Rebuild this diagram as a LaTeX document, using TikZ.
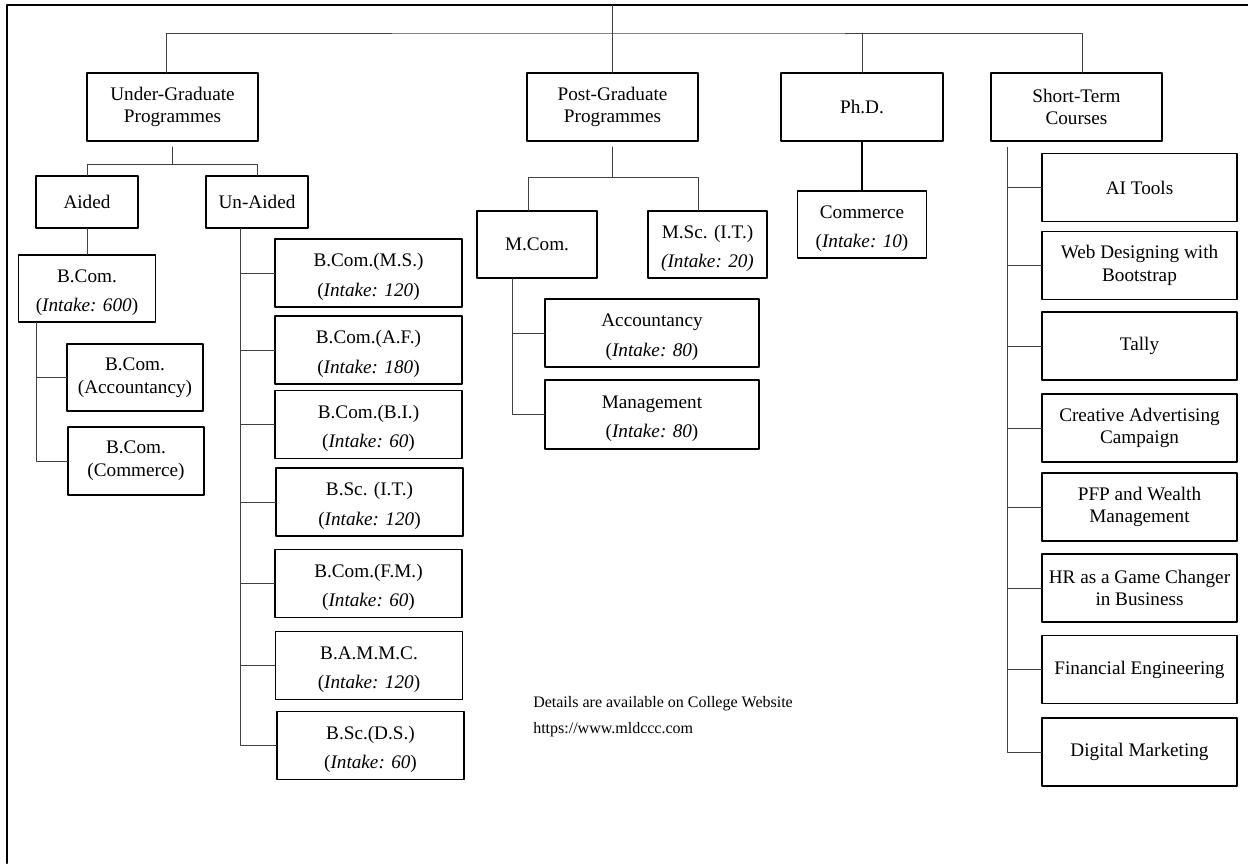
\documentclass[tikz,border=0pt]{standalone}
\usepackage{fontspec}
\setmainfont{Liberation Serif}
\newcommand{\upline}{\rule{0pt}{16pt}}

\begin{document}
\begin{tikzpicture}[line cap=round,line join=round,x=0.75pt,y=-0.75pt,
    box/.style={draw,line width=0.9pt,rectangle,align=center,inner sep=1pt,font=\fontsize{14.4}{17}\selectfont},
    intake/.style={box,font=\fontsize{14.4}{22}\selectfont},
    topbox/.style={box,minimum width=128.25pt,minimum height=51pt},
    uabox/.style={intake,minimum width=140.25pt,minimum height=51pt},
    stbox/.style={box,minimum width=146.25pt,minimum height=51pt},
    link/.style={line width=0.6pt,draw=black!75}]
    \useasboundingbox (0,0) rectangle (1248,863);
    \draw [line width=1.5pt] (7,863) -- (7,5) -- (1248,5);
    % first level
    \node[topbox] (ug) at (172.5,107) {Under-Graduate\\Programmes};
    \node[topbox] (pg) at (612.5,107) {Post-Graduate\\Programmes};
    \node[topbox,minimum width=121.5pt] (phd) at (862,107) {Ph.D.};
    \node[topbox] (st) at (1076.5,107) {Short-Term\\Courses};
    \coordinate (root) at (612.5,5);
    \coordinate (rootbus) at (612.5,33);
    \draw [link] (root) -- (rootbus);
    \draw [link] ([xshift=-4.5pt]ug.north) |- (rootbus) -| ([xshift=4.5pt]st.north);
    \draw [link] (rootbus) -- (pg.north);
    \draw [link] (phd.north |- rootbus) -- (phd.north);
    % under-graduate
    \node[box,minimum width=76.5pt,minimum height=39pt] (aided) at (87,202) {Aided};
    \node[box,minimum width=76.5pt,minimum height=39pt] (unaided) at (257,202) {Un-Aided};
    \draw [link] ([yshift=-4pt]ug.south) -- ++(0,17) coordinate (ugbus);
    \draw [link] (aided.north) |- (ugbus) -| (unaided.north);
    \node[intake,minimum width=102.75pt,minimum height=50.25pt] (bcom) at (87,288.5) {\upline B.Com.\\(\textit{Intake: 600})};
    \node[box,minimum width=102pt,minimum height=50.25pt] (bacc) at (135,377.5) {B.Com.\\(Accountancy)};
    \node[box,minimum width=102pt,minimum height=51pt] (bcomm) at (136,461) {B.Com.\\(Commerce)};
    \draw [link] (aided.south) -- (bcom.north);
    \draw [link] ([xshift=13.5pt]bcom.south west) |- (bacc.west);
    \draw [link] ([xshift=13.5pt]bcom.south west) |- (bcomm.west);
    \node[uabox] (ms) at (368.5,273) {\upline B.Com.(M.S.)\\(\textit{Intake: 120})};
    \node[uabox] (af) at (368.5,350) {\upline B.Com.(A.F.)\\(\textit{Intake: 180})};
    \node[uabox] (bi) at (368.5,424.5) {\upline B.Com.(B.I.)\\(\textit{Intake: 60})};
    \node[uabox] (it) at (369.5,502) {\upline B.Sc. (I.T.)\\(\textit{Intake: 120})};
    \node[uabox] (fm) at (368.5,583.5) {\upline B.Com.(F.M.)\\(\textit{Intake: 60})};
    \node[uabox] (bammc) at (369,665.5) {\upline B.A.M.M.C.\\(\textit{Intake: 120})};
    \node[uabox] (ds) at (370.5,745.5) {\upline B.Sc.(D.S.)\\(\textit{Intake: 60})};
    \draw [link] ([xshift=-12.75pt]unaided.south) |- (ms.west);
    \draw [link] ([xshift=-12.75pt]unaided.south) |- (af.west);
    \draw [link] ([xshift=-12.75pt]unaided.south) |- (bi.west);
    \draw [link] ([xshift=-12.75pt]unaided.south) |- (it.west);
    \draw [link] ([xshift=-12.75pt]unaided.south) |- (fm.west);
    \draw [link] ([xshift=-12.75pt]unaided.south) |- (bammc.west);
    \draw [link] ([xshift=-12.75pt]unaided.south) |- (ds.west);
    % post-graduate
    \node[box,minimum width=90pt,minimum height=50.25pt] (mcom) at (537,244.5) {M.Com.};
    \node[intake,minimum width=89.25pt,minimum height=50.25pt] (msc) at (707.5,244.5) {\upline M.Sc. (I.T.)\\\textit{(Intake: 20)}};
    \draw [link] ([yshift=-4pt]pg.south) -- ++(0,30) coordinate (pgbus);
    \draw [link] ([xshift=-6.75pt]mcom.north) |- (pgbus) -| ([xshift=-6.75pt]msc.north);
    \node[intake,minimum width=160.5pt,minimum height=51pt] (macc) at (652,333) {\upline Accountancy\\(\textit{Intake: 80})};
    \node[intake,minimum width=160.5pt,minimum height=51.75pt] (mman) at (652,414.5) {\upline Management\\(\textit{Intake: 80})};
    \draw [link] ([xshift=-18.75pt]mcom.south) |- (macc.west);
    \draw [link] ([xshift=-18.75pt]mcom.south) |- (mman.west);
    % ph.d.
    \node[intake,minimum width=96.75pt,minimum height=50.25pt] (phdc) at (862,224.5) {\upline Commerce\\(\textit{Intake: 10})};
    \draw [line width=1.2pt] (phd.south) -- (phdc.north);
    % short-term
    \node[stbox] (ai) at (1139.5,187.5) {AI Tools};
    \node[stbox] (web) at (1139.5,265.5) {Web Designing with\\Bootstrap};
    \node[stbox] (tally) at (1139.5,346) {Tally};
    \node[stbox] (cac) at (1139.5,428) {Creative Advertising\\Campaign};
    \node[stbox] (pfp) at (1139.5,507) {PFP and Wealth\\Management};
    \node[stbox] (hr) at (1139.5,588) {HR as a Game Changer\\in Business};
    \node[stbox] (fe) at (1139.5,669.5) {Financial Engineering};
    \node[stbox] (dm) at (1139.5,752) {Digital Marketing};
    \draw [link] ([shift={(12.75pt,-4.5pt)}]st.south west) |- (ai.west);
    \draw [link] ([shift={(12.75pt,-4.5pt)}]st.south west) |- (web.west);
    \draw [link] ([shift={(12.75pt,-4.5pt)}]st.south west) |- (tally.west);
    \draw [link] ([shift={(12.75pt,-4.5pt)}]st.south west) |- (cac.west);
    \draw [link] ([shift={(12.75pt,-4.5pt)}]st.south west) |- (pfp.west);
    \draw [link] ([shift={(12.75pt,-4.5pt)}]st.south west) |- (hr.west);
    \draw [link] ([shift={(12.75pt,-4.5pt)}]st.south west) |- (fe.west);
    \draw [link] ([shift={(12.75pt,-4.5pt)}]st.south west) |- (dm.west);
    % note
    \node[anchor=north west,align=left,inner sep=0pt,font=\fontsize{12}{19.5}\selectfont] (note) at (533,696) {Details are available on College Website\\https://www.mldccc.com};
\end{tikzpicture}
\end{document}
